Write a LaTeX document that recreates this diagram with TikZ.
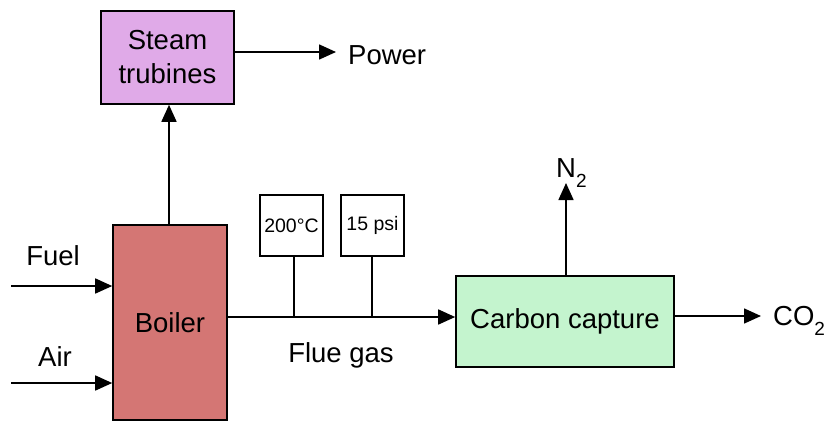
\documentclass[tikz,border=0pt]{standalone}
\usepackage{fontspec}
\setmainfont{Liberation Sans}
\usetikzlibrary{arrows.meta}
\definecolor{steamfill}{RGB}{224,170,232}
\definecolor{boilerfill}{RGB}{212,118,116}
\definecolor{capturefill}{RGB}{196,244,206}
\newcommand{\subtwo}{\raisebox{-10pt}{\fontsize{19}{19}\selectfont 2}}
\begin{document}
\begin{tikzpicture}[x=1pt,y=-1pt,
  unitbox/.style={draw=black,line width=1.6pt,inner sep=0pt,align=center,
    font=\fontsize{27.5}{34}\selectfont},
  gauge/.style={draw=black,line width=1.3pt,inner sep=0pt,minimum width=63pt,minimum height=61pt,
    font=\fontsize{19.5}{22}\selectfont},
  flow/.style={line width=1.6pt,-{Triangle[length=17pt,width=15pt]}},
  pipe/.style={line width=1.6pt},
  lbl/.style={inner sep=0pt,font=\fontsize{27.5}{30}\selectfont}]
\useasboundingbox (0,0) rectangle (827,421);
\node[unitbox,fill=steamfill,minimum width=133pt,minimum height=93pt] (steam) at (167.5,57.5) {Steam\\trubines};
\node[unitbox,fill=boilerfill,minimum width=114pt,minimum height=195pt] (boiler) at (170,322.5) {Boiler};
\node[unitbox,fill=capturefill,minimum width=218pt,minimum height=91pt] (capture) at (565,321.5) {Carbon capture};
\node[gauge] (temp) at (291.5,225.5) {200°C};
\node[gauge] (press) at (372.5,225.5) {15 psi};
% labels
\node[lbl,anchor=base west] (power) at (348,64) {Power};
\node[lbl,anchor=base] (fuel) at (53,265) {Fuel};
\node[lbl,anchor=base] (air) at (55,366) {Air};
\node[lbl,anchor=base] (flue) at (341,362) {Flue gas};
\node[lbl,anchor=base west] (ntwo) at (556,177) {N\subtwo};
\node[lbl,anchor=base west] (cotwo) at (773,325) {CO\subtwo};
% coordinates
\coordinate (fuelstart) at (11,286);
\coordinate (airstart) at (11,383);
\coordinate (steamup) at (169,0);
\coordinate (fluey) at (0,317);
\coordinate (powerend) at (336,0);
\coordinate (co2end) at (761,0);
\coordinate (n2end) at (566,183);
% connectors
\draw[flow] (fuelstart) -- (fuelstart -| boiler.west);
\draw[flow] (airstart) -- (airstart -| boiler.west);
\draw[flow] (steamup |- boiler.north) -- (steamup |- steam.south);
\draw[flow] (steam.east |- 0,52) -- (powerend |- 0,52);
\draw[flow] (boiler.east |- fluey) -- (capture.west |- fluey);
\draw[pipe] (temp.south -| 294,0) -- (294,317);
\draw[pipe] (press.south -| 372,0) -- (372,317);
\draw[flow] (n2end |- capture.north) -- (n2end);
\draw[flow] (capture.east |- 0,316) -- (co2end |- 0,316);
\end{tikzpicture}
\end{document}
